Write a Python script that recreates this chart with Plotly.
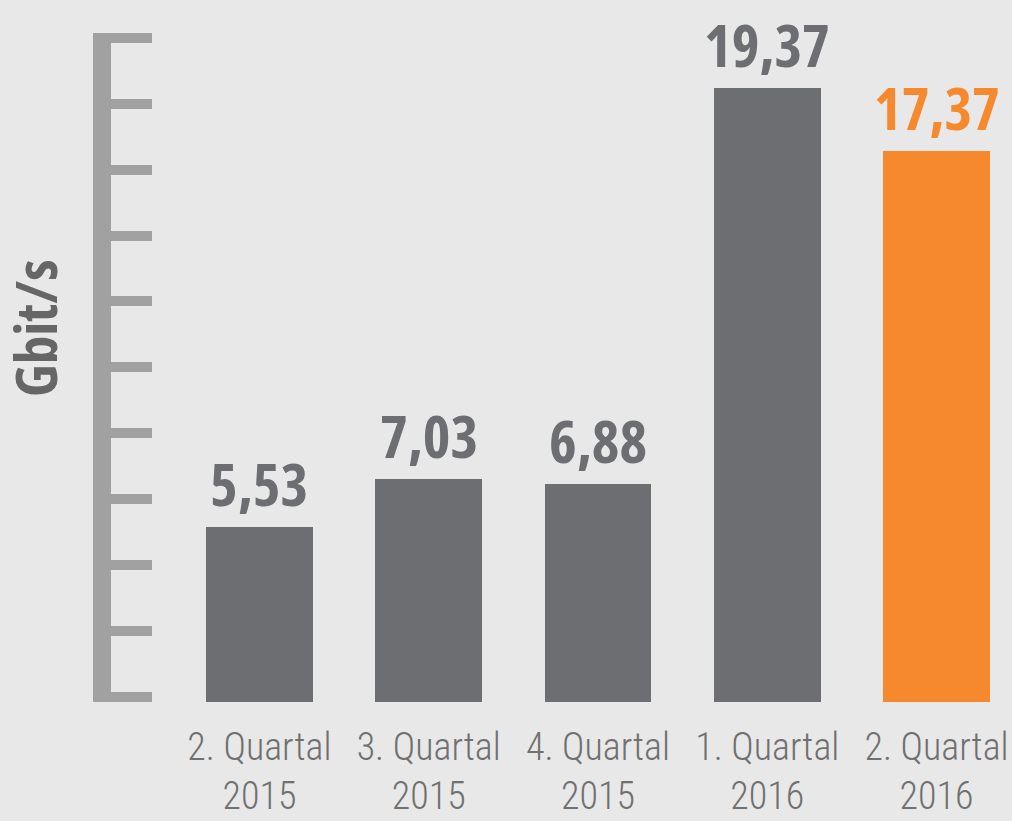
import plotly.graph_objects as go

cat_line1 = ["2. Quartal", "3. Quartal", "4. Quartal", "1. Quartal", "2. Quartal"]
cat_line2 = ["2015", "2015", "2015", "2016", "2016"]
values = [5.53, 7.03, 6.88, 19.37, 17.37]
value_labels = ["5,53", "7,03", "6,88", "19,37", "17,37"]
bar_colors = ["#6d6e71", "#6d6e71", "#6d6e71", "#6d6e71", "#f6892d"]
label_colors = ["#6d6e71", "#6d6e71", "#6d6e71", "#6d6e71", "#f6892d"]
y_title = "Gbit/s"

BG = "#e8e8e8"
AX = "#a1a1a1"
COND = "<span style='font-stretch:75%'>{}</span>"

x_pos = list(range(len(values)))
ticktext = [f"{a}<br>{b}" for a, b in zip(cat_line1, cat_line2)]

fig = go.Figure()
fig.add_trace(go.Bar(
    x=x_pos, y=values,
    marker=dict(color=bar_colors, line=dict(width=0)),
    width=0.632,
    hoverinfo="skip",
))

for xi, v, lab, col in zip(x_pos, values, value_labels, label_colors):
    fig.add_annotation(
        x=xi, y=v, text=COND.format(lab), showarrow=False,
        yanchor="bottom", xanchor="center", yshift=2,
        font=dict(family="Open Sans", size=59, color=col, weight=700),
    )

fig.add_annotation(
    xref="paper", yref="paper", x=0, y=0.559, xshift=-76,
    text=COND.format(y_title), textangle=-90, showarrow=False,
    xanchor="center", yanchor="middle",
    font=dict(family="Open Sans", size=57, color="#666666", weight=700),
)

fig.update_layout(
    width=1012, height=821,
    paper_bgcolor=BG, plot_bgcolor=BG,
    margin=dict(l=111, r=12, t=33, b=119),
    showlegend=False,
    bargap=0,
    xaxis=dict(
        range=[-0.877, 4.375],
        tickmode="array", tickvals=x_pos, ticktext=ticktext,
        showgrid=False, zeroline=False, showline=False,
        ticks="", ticklabelstandoff=19, ticklabeloverflow="allow",
        tickangle=0, automargin=False,
        tickfont=dict(family="Roboto Condensed", size=38, color="#707070", weight=300),
    ),
    yaxis=dict(
        range=[0, 21.1], automargin=False,
        showgrid=False, zeroline=False,
        showline=True, linewidth=18, linecolor=AX,
        ticks="inside", ticklen=41, tickwidth=10, tickcolor=AX,
        tick0=0.16, dtick=2.079,
        showticklabels=False,
    ),
)

fig.write_html("out.html", post_script="document.body.style.margin='0';",
               config={"displayModeBar": False})
